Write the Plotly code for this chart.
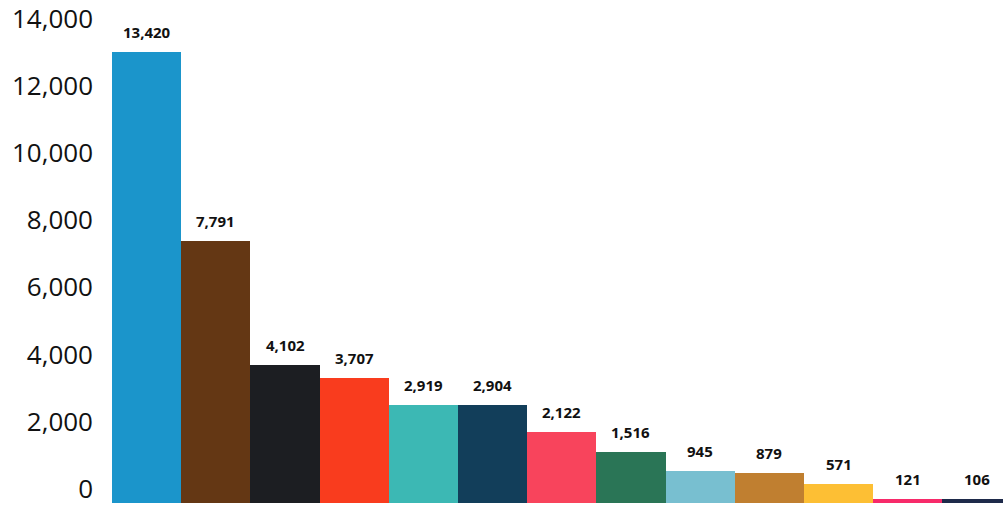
import plotly.graph_objects as go

categories = ["C1", "C2", "C3", "C4", "C5", "C6", "C7", "C8", "C9", "C10", "C11", "C12", "C13"]
values = [13420, 7791, 4102, 3707, 2919, 2904, 2122, 1516, 945, 879, 571, 121, 106]
labels = ["13,420", "7,791", "4,102", "3,707", "2,919", "2,904", "2,122", "1,516", "945", "879", "571", "121", "106"]
colors = ["#1B95CB", "#643714", "#1C1E22", "#F93C1E", "#3CB8B4", "#123E5A", "#F8445C",
          "#2A7556", "#78BFD0", "#C07F30", "#FDBF34", "#F72A6A", "#1E2A4A"]
tick_vals = [0, 2000, 4000, 6000, 8000, 10000, 12000, 14000]
tick_text = ["0", "2,000", "4,000", "6,000", "8,000", "10,000", "12,000", "14,000"]

fig = go.Figure()
fig.add_trace(go.Bar(
    x=categories, y=values, marker=dict(color=colors, line=dict(width=0)),
    width=1.0, hoverinfo="skip"))

for c, v, t in zip(categories, values, labels):
    fig.add_annotation(x=c, y=v, text="<b>" + t + "</b>", showarrow=False,
                       yanchor="bottom", yshift=8,
                       font=dict(family="Open Sans", size=15, color="#111111"))

fig.update_layout(
    width=1003, height=508,
    margin=dict(l=112, r=0, t=0, b=5, autoexpand=False),
    paper_bgcolor="white", plot_bgcolor="white",
    showlegend=False, bargap=0,
    xaxis=dict(range=[-0.5, 12.376], showticklabels=False, showgrid=False,
               zeroline=False, showline=False, ticks="", automargin=False),
    yaxis=dict(range=[0, 14966], tickvals=tick_vals, ticktext=tick_text,
               showgrid=False, zeroline=False, showline=False, ticks="",
               automargin=False,
               ticklabelshift=-14, ticklabelstandoff=18, ticklabeloverflow="allow",
               tickfont=dict(family="Open Sans", size=26, color="#111111")),
)

fig.write_html("out.html", config={"displayModeBar": False},
               post_script="document.body.style.margin='0';document.body.style.overflow='hidden';")
